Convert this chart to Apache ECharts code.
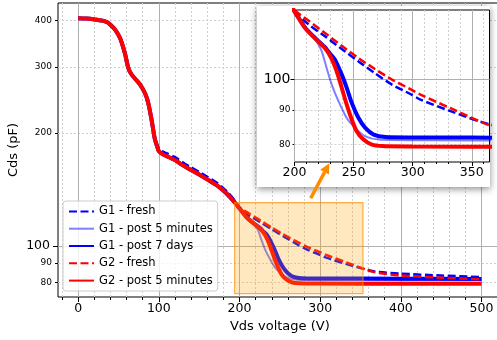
<!DOCTYPE html>
<html>
<head>
<meta charset="utf-8">
<script src="https://cdn.jsdelivr.net/npm/echarts@6.0.0/dist/echarts.min.js"></script>
<style>
  html, body { margin: 0; padding: 0; background: #fff; }
  #chart { width: 497px; height: 340px; }
</style>
</head>
<body>
<div id="chart"></div>
<script>
const FONT = 'DejaVu Sans'

// [Vds (V), Cds (pF)]
const commonStart = [
  [0, 405], [10, 404], [20, 402], [30, 399], [36, 395], [40, 389], [46, 377],
  [52, 358], [58, 326], [62, 299], [66, 287], [72, 277], [77, 269], [83, 255],
  [87, 240], [91, 217], [95, 193]
]
const commonMid = [
  [98, 184], [100, 179], [105, 175.5], [110, 173.5], [120, 169.5], [130, 164],
  [140, 159.5], [150, 155], [160, 150.5], [172, 145], [184, 138], [195, 130]
]
const g1FreshMid = [
  [98, 186], [100, 182], [105, 178.5], [110, 176.5], [120, 172.5], [130, 167],
  [140, 162], [150, 157.5], [160, 153], [172, 147.5], [184, 140], [195, 131.5]
]
const g1FreshTail = [
  [200, 126], [212, 120.5], [225.8, 115.7], [240, 110.8], [254.2, 106.2], [268, 102],
  [282.5, 98.1], [298, 95], [306.6, 93.2], [332, 89.6], [366, 85.6], [400, 84.4],
  [450, 83.4], [500, 82.6]
]
const g1Post5Tail = [
  [200, 126], [208, 119.5], [214, 116.5], [219, 113.5], [223, 110], [227.2, 103.8],
  [231.5, 98.1], [237.2, 92.7], [244.2, 87.5], [251.3, 84.6], [259.9, 82.2],
  [271.2, 81.3], [308, 81.1], [400, 81], [500, 81]
]
const g1Post7Tail = [
  [200, 126], [209, 119.2], [218, 114.8], [226, 111.4], [229, 109.6], [234, 107],
  [240, 101.5], [244.2, 97], [248.5, 92.1], [254.2, 87.5], [259.9, 84.6], [267, 82.7],
  [277, 82], [300, 81.9], [400, 81.8], [500, 81.7]
]
const g2FreshTail = [
  [200, 126.5], [212, 122], [225.8, 117], [240, 112], [254.2, 107.4], [268, 103.5],
  [282.5, 99.8], [298, 96.6], [306.6, 94.8], [332, 90.5], [366, 85.3], [400, 83.4],
  [450, 82.3], [500, 81.5]
]
const g2Post5Tail = [
  [200, 126], [209, 119], [218, 114.6], [226, 111], [231, 107.5], [235.7, 102.7],
  [240, 97], [244.2, 91.6], [248.5, 87], [252.7, 83.6], [258.4, 81.3], [265.5, 79.9],
  [274, 79.5], [300, 79.4], [400, 79.3], [500, 79.3]
]

const xMajorTicks = [0, 100, 200, 300, 400, 500]
const xMinorTicks = [-20, 20, 40, 60, 80, 120, 140, 160, 180, 220, 240, 260, 280,
  320, 340, 360, 380, 420, 440, 460, 480, 520]
const yMajorTicks = [100]
const yMinorTicks = [80, 90, 200, 300, 400]
const insetXMajorTicks = [200, 250, 300, 350]
const insetXMinorTicks = [210, 220, 230, 240, 260, 270, 280, 290, 310, 320, 330, 340, 360]
const insetYMajorTicks = [100]
const insetYMinorTicks = [80, 90]

// zoomed region marked on the main plot
const zoomBoxV = [194, 353]
const zoomBoxC = [74.6, 130.5]

const curves = [
  { name: 'G1 - fresh', data: commonStart.concat(g1FreshMid, g1FreshTail),
    color: '#0000ff', width: 2.5, type: [8, 3.5] },
  { name: 'G1 - post 5 minutes', data: commonStart.concat(commonMid, g1Post5Tail),
    color: 'rgba(0,0,255,0.5)', width: 2, type: 'solid' },
  { name: 'G1 - post 7 days', data: commonStart.concat(commonMid, g1Post7Tail),
    color: '#0000ff', width: 4, type: 'solid' },
  { name: 'G2 - fresh', data: commonStart.concat(commonMid, g2FreshTail),
    color: '#ff0000', width: 2.5, type: [8, 3.5] },
  { name: 'G2 - post 5 minutes', data: commonStart.concat(commonMid, g2Post5Tail),
    color: '#ff0000', width: 4, type: 'solid' }
]

const chart = echarts.init(document.getElementById('chart'))

function axis(kind, opts) {
  const base = {
    type: kind,
    gridIndex: opts.grid,
    position: kind === 'log' ? 'left' : 'bottom',
    min: opts.min,
    max: opts.max,
    z: opts.z,
    silent: true,
    axisLine: { show: false, onZero: false },
    axisTick: {
      show: true,
      customValues: opts.ticks,
      length: opts.tickLen,
      lineStyle: { color: '#000', width: 1 }
    },
    axisLabel: {
      show: opts.labelSize > 0,
      customValues: opts.ticks,
      fontSize: opts.labelSize,
      fontFamily: FONT,
      color: '#000',
      margin: opts.margin
    },
    splitLine: {
      show: true,
      lineStyle: opts.minor
        ? { color: '#cfcfcf', width: 1, type: [2, 2] }
        : { color: '#b0b0b0', width: 1 }
    }
  }
  if (kind === 'log') base.logBase = 10
  return Object.assign(base, opts.extra || {})
}

const series = []
curves.forEach(c => {
  ;[[0, 2], [2, 13]].forEach(([idx, z]) => {
    series.push({
      type: 'line',
      name: c.name,
      data: c.data,
      xAxisIndex: idx,
      yAxisIndex: idx,
      z: z,
      symbol: 'none',
      showSymbol: false,
      smooth: 0.25,
      clip: true,
      silent: true,
      lineStyle: { color: c.color, width: c.width, type: c.type },
      itemStyle: { color: c.color }
    })
  })
})

series.push({
  type: 'line',
  name: 'zoom box',
  data: [],
  xAxisIndex: 0,
  yAxisIndex: 0,
  z: 4,
  silent: true,
  markArea: {
    z: 4,
    silent: true,
    itemStyle: {
      color: 'rgba(255,165,0,0.25)',
      borderColor: 'rgba(255,140,0,0.7)',
      borderWidth: 1.2
    },
    data: [[
      { coord: [zoomBoxV[0], zoomBoxC[1]] },
      { coord: [zoomBoxV[1], zoomBoxC[0]] }
    ]]
  }
})

// arrow pointing from the box to the inset
const tail = [310.7, 198.3]
const tip = [329.3, 163.3]
const dx = tip[0] - tail[0], dy = tip[1] - tail[1]
const len = Math.sqrt(dx * dx + dy * dy)
const ux = dx / len, uy = dy / len
const headLen = 10, headHalf = 5
const baseX = tip[0] - ux * headLen, baseY = tip[1] - uy * headLen

chart.setOption({
  animation: false,
  backgroundColor: '#fff',
  textStyle: { fontFamily: FONT },
  grid: [
    { left: 58, top: 3, width: 443.7, height: 294, show: true, outerBoundsMode: 'none',
      containLabel: false,
      borderColor: '#000', borderWidth: 1, backgroundColor: 'transparent', z: 0 },
    { left: 294.5, top: 10, width: 195, height: 152, show: true, outerBoundsMode: 'none',
      containLabel: false,
      borderColor: '#000', borderWidth: 1, backgroundColor: '#fff', z: 11 }
  ],
  xAxis: [
    axis('value', { grid: 0, min: -25, max: 525, z: 1, ticks: xMajorTicks, tickLen: 5,
      labelSize: 12.5, margin: 5, extra: {
        name: 'Vds voltage (V)', nameLocation: 'middle', nameGap: 23, nameMoveOverlap: false,
        nameTextStyle: { fontFamily: FONT, fontSize: 13, color: '#000' } } }),
    axis('value', { grid: 0, min: -25, max: 525, z: 0, ticks: xMinorTicks, tickLen: 3,
      labelSize: 0, minor: true }),
    axis('value', { grid: 1, min: 200, max: 365, z: 12, ticks: insetXMajorTicks, tickLen: 4,
      labelSize: 12.5, margin: 4 }),
    axis('value', { grid: 1, min: 200, max: 365, z: 11.5, ticks: insetXMinorTicks, tickLen: 2,
      labelSize: 0, minor: true })
  ],
  yAxis: [
    axis('log', { grid: 0, min: 73.1, max: 444.6, z: 1, ticks: yMajorTicks, tickLen: 5,
      labelSize: 12.5, margin: 8, extra: {
        name: 'Cds (pF)', nameLocation: 'middle', nameGap: 38, nameMoveOverlap: false,
        nameTextStyle: { fontFamily: FONT, fontSize: 13, color: '#000' } } }),
    axis('log', { grid: 0, min: 73.1, max: 444.6, z: 0, ticks: yMinorTicks, tickLen: 3,
      labelSize: 9, margin: 6, minor: true }),
    axis('log', { grid: 1, min: 75.3, max: 126.6, z: 12, ticks: insetYMajorTicks, tickLen: 4,
      labelSize: 14, margin: 4 }),
    axis('log', { grid: 1, min: 75.3, max: 126.6, z: 11.5, ticks: insetYMinorTicks, tickLen: 2,
      labelSize: 9, margin: 4, minor: true })
  ],
  legend: {
    orient: 'vertical',
    left: 63,
    top: 201,
    data: curves.map(c => c.name),
    itemWidth: 25,
    itemHeight: 14,
    itemGap: 3.3,
    padding: [3.4, 5, 3.4, 5],
    backgroundColor: 'rgba(255,255,255,0.8)',
    borderColor: '#cccccc',
    borderWidth: 1,
    borderRadius: 3,
    itemStyle: { opacity: 0 },
    textStyle: { fontFamily: FONT, fontSize: 11.5, color: '#000', lineHeight: 14 },
    z: 6
  },
  graphic: [
    {
      type: 'rect',
      z: 10,
      silent: true,
      shape: { x: 257, y: 6, width: 233, height: 181 },
      style: { fill: '#fff', shadowBlur: 7, shadowColor: 'rgba(0,0,0,0.45)', shadowOffsetY: 2 }
    },
    {
      type: 'line',
      z: 30,
      silent: true,
      shape: { x1: tail[0], y1: tail[1], x2: baseX, y2: baseY },
      style: { stroke: '#ff8c00', lineWidth: 3.5 }
    },
    {
      type: 'polygon',
      z: 30,
      silent: true,
      shape: { points: [
        tip,
        [baseX - uy * headHalf, baseY + ux * headHalf],
        [baseX + uy * headHalf, baseY - ux * headHalf]
      ] },
      style: { fill: '#ff8c00' }
    }
  ],
  series: series
})
</script>
</body>
</html>
